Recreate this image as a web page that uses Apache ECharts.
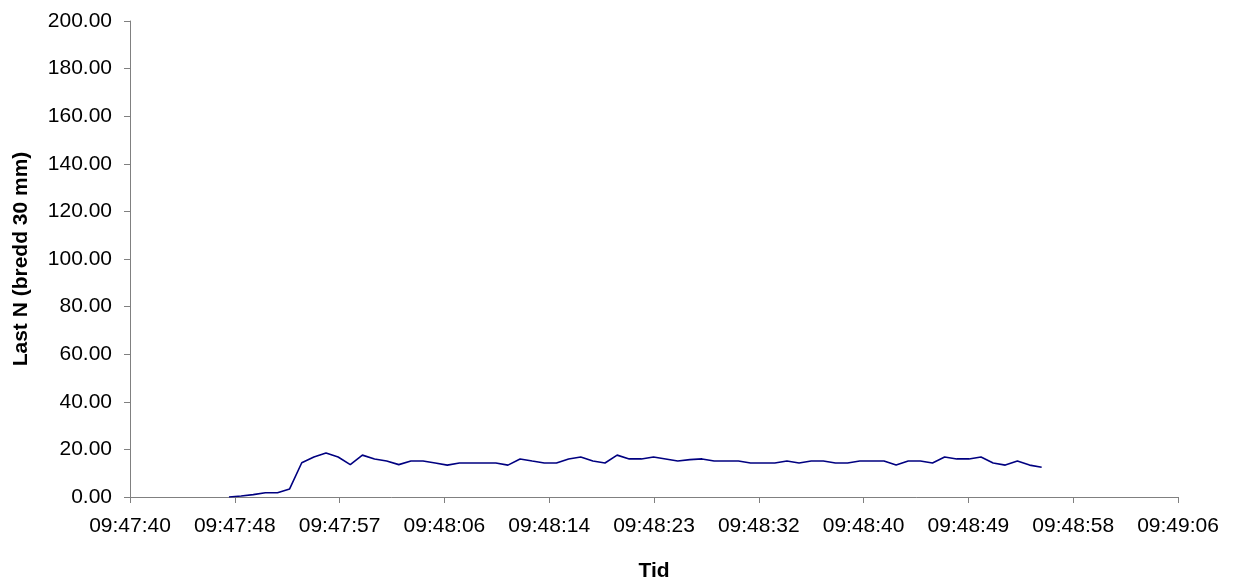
<!DOCTYPE html>
<html>
<head>
<meta charset="utf-8">
<script src="https://cdn.jsdelivr.net/npm/echarts@6/dist/echarts.min.js"></script>
<style>
html,body{margin:0;padding:0;background:#fff;}
#chart{width:1234px;height:585px;}
</style>
</head>
<body>
<div id="chart"></div>
<script>
// Sample times (hh:mm:ss)
var times = [
  "09:47:48","09:47:49","09:47:50","09:47:51","09:47:52","09:47:53","09:47:54","09:47:55","09:47:56","09:47:57",
  "09:47:58","09:47:59","09:48:00","09:48:01","09:48:02","09:48:03","09:48:04","09:48:05","09:48:06","09:48:07",
  "09:48:08","09:48:09","09:48:10","09:48:11","09:48:12","09:48:13","09:48:14","09:48:15","09:48:16","09:48:17",
  "09:48:18","09:48:19","09:48:20","09:48:21","09:48:22","09:48:23","09:48:24","09:48:25","09:48:26","09:48:27",
  "09:48:28","09:48:29","09:48:30","09:48:31","09:48:32","09:48:33","09:48:34","09:48:35","09:48:36","09:48:37",
  "09:48:38","09:48:39","09:48:40","09:48:41","09:48:42","09:48:43","09:48:44","09:48:45","09:48:46","09:48:47",
  "09:48:48","09:48:49","09:48:50","09:48:51","09:48:52","09:48:53","09:48:54","09:48:55"
];
// Load N (width 30 mm)
var loadN = [
  0, 0.4, 1.0, 1.8, 1.8, 3.4, 14.4, 16.8, 18.5, 16.8,
  13.6, 17.6, 16.0, 15.1, 13.6, 15.1, 15.1, 14.3, 13.4, 14.3,
  14.3, 14.3, 14.3, 13.4, 16.0, 15.1, 14.3, 14.3, 16.0, 16.8,
  15.1, 14.3, 17.6, 16.0, 16.0, 16.8, 16.0, 15.1, 15.7, 16.0,
  15.1, 15.1, 15.1, 14.3, 14.3, 14.3, 15.1, 14.3, 15.1, 15.1,
  14.3, 14.3, 15.1, 15.1, 15.1, 13.4, 15.1, 15.1, 14.3, 16.8,
  16.0, 16.0, 16.8, 14.3, 13.4, 15.1, 13.4, 12.5
];
// Axis settings (x axis unit = 0.0001 day = 8.64 s)
var xUnitSeconds = 8.64;
var xMinUnit = 4081, xMaxUnit = 4091, xStepUnit = 1;
var yMin = 0, yMax = 200, yStep = 20;
var xTitle = "Tid";
var yTitle = "Last N (bredd 30 mm)";

function toSec(t){var p=t.split(":");return (+p[0])*3600+(+p[1])*60+(+p[2]);}
function pad(n){return (n<10?"0":"")+n;}
function fmtTime(u){
  var s=Math.round(u*xUnitSeconds);
  var h=Math.floor(s/3600), m=Math.floor((s%3600)/60), ss=s%60;
  return pad(h)+":"+pad(m)+":"+pad(ss);
}
var seriesData = times.map(function(t,i){return [toSec(t)/xUnitSeconds, loadN[i]];});

var font = "Liberation Sans, Arial, sans-serif";
var axisCol = "#808080";
var chart = echarts.init(document.getElementById("chart"), null, {renderer:"canvas"});
chart.setOption({
  animation:false,
  backgroundColor:"#ffffff",
  grid:{left:130,right:56,top:21,bottom:88,containLabel:false,outerBoundsMode:"none"},
  xAxis:{
    type:"value", min:xMinUnit, max:xMaxUnit, interval:xStepUnit,
    name:xTitle, nameLocation:"middle", nameGap:64,
    nameTextStyle:{fontFamily:font,fontSize:21,fontWeight:"bold",color:"#000"},
    axisLine:{show:true,onZero:false,lineStyle:{color:axisCol,width:1}},
    axisTick:{show:true,inside:false,length:6,lineStyle:{color:axisCol}},
    axisLabel:{fontFamily:font,fontSize:21,color:"#000",margin:19,formatter:fmtTime,showMinLabel:true,showMaxLabel:true},
    splitLine:{show:false}
  },
  yAxis:{
    type:"value", min:yMin, max:yMax, interval:yStep,
    name:yTitle, nameLocation:"middle", nameGap:98, nameRotate:90,
    nameTextStyle:{fontFamily:font,fontSize:21,fontWeight:"bold",color:"#000"},
    axisLine:{show:true,lineStyle:{color:axisCol,width:1}},
    axisTick:{show:true,inside:false,length:6,lineStyle:{color:axisCol}},
    axisLabel:{fontFamily:font,fontSize:21,color:"#000",margin:18,formatter:function(v){return v.toFixed(2);}},
    splitLine:{show:false}
  },
  series:[{
    type:"line", data:seriesData, showSymbol:false, symbol:"none",
    lineStyle:{color:"#000080",width:1.6}, itemStyle:{color:"#000080"}
  }]
});
</script>
</body>
</html>
